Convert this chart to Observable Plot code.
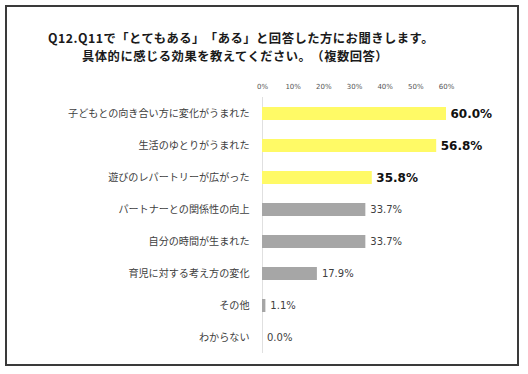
<!DOCTYPE html>
<html><head><meta charset="utf-8">
<script src="https://cdn.jsdelivr.net/npm/d3@7"></script>
<script src="https://cdn.jsdelivr.net/npm/@observablehq/plot@0.6"></script>
<style>
body{margin:0;background:#fff;}
#wrap{position:relative;width:528px;height:374px;overflow:hidden;}
#frame{position:absolute;left:5px;top:5px;width:514px;height:361px;box-sizing:border-box;border:2px solid #3a3a3a;pointer-events:none;}
#title{height:66px;font-family:"Noto Sans CJK JP",sans-serif;font-weight:bold;font-size:12.3px;letter-spacing:0.5px;color:#1a1a1a;line-height:13px;text-spacing-trim:space-all;}
#title div{position:absolute;white-space:nowrap;}
</style></head>
<body>
<div id="wrap">
<div id="title"><div id="t1" style="left:48px;top:32px">Q12.Q11で「とてもある」「ある」と回答した方にお聞きします。</div><div id="t2" style="left:82px;top:50px">具体的に感じる効果を教えてください。（複数回答）</div></div>
<div id="chart"></div>
<div id="frame"></div>
</div>
<script>
const categories = ["子どもとの向き合い方に変化がうまれた","生活のゆとりがうまれた","遊びのレパートリーが広がった","パートナーとの関係性の向上","自分の時間が生まれた","育児に対する考え方の変化","その他","わからない"];
const values = [60.0, 56.8, 35.8, 33.7, 33.7, 17.9, 1.1, 0.0];
const highlighted = [true, true, true, false, false, false, false, false];
const ticks = [0, 10, 20, 30, 40, 50, 60];

const data = categories.map((c, i) => ({cat: c, v: values[i], hi: highlighted[i]}));

const plot = Plot.plot({
  width: 528, height: 308,
  marginLeft: 262, marginRight: 82, marginTop: 31, marginBottom: 21,
  style: {background: "transparent", overflow: "visible"},
  x: {domain: [0, 60], axis: null, label: null},
  y: {domain: categories, paddingInner: 0.6, paddingOuter: 0.3, axis: null, label: null},
  marks: [
    Plot.ruleX([0], {stroke: "#e0e0e0", strokeWidth: 1}),
    Plot.barX(data, {x: "v", y: "cat", fill: d => d.hi ? "#FFFA66" : "#A6A6A6"}),
    Plot.axisX(ticks, {anchor: "top", label: null, tickSize: 0, tickPadding: 9, tickFormat: d => d + "%", fontSize: 7, fill: "#555", fontFamily: "DejaVu Sans"}),
    Plot.axisY({label: null, tickSize: 0, tickPadding: 13, fontSize: 10.1, fill: "#404040", fontFamily: "Noto Sans CJK JP"}),
    Plot.text(data.filter(d => d.hi), {x: "v", y: "cat", text: d => d.v.toFixed(1) + "%", textAnchor: "start", dx: 4, fontSize: 12, fontWeight: "bold", fill: "#111", fontFamily: "DejaVu Sans"}),
    Plot.text(data.filter(d => !d.hi), {x: "v", y: "cat", text: d => d.v.toFixed(1) + "%", textAnchor: "start", dx: 4.5, fontSize: 10, fill: "#404040", fontFamily: "DejaVu Sans"})
  ]
});
document.getElementById("chart").appendChild(plot);
</script>
</body></html>
